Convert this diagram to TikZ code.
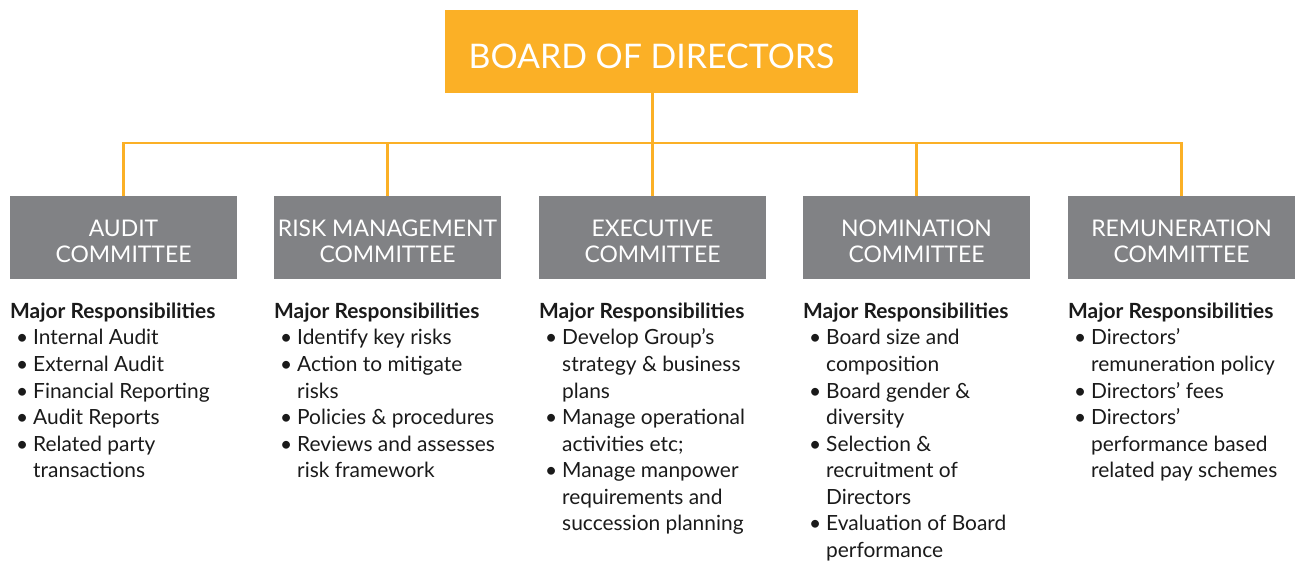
\documentclass[tikz,border=0pt]{standalone}
\usepackage{fontspec}
\setmainfont{Lato}
\definecolor{bodorange}{HTML}{FBB026}
\definecolor{comgray}{HTML}{818285}
\definecolor{txtdark}{HTML}{1A1A1A}
\newcommand{\bitem}[1]{\makebox[23bp][l]{\hspace{6bp}\textbullet}#1}
\newcommand{\citem}[1]{\hspace{23bp}#1}
\newcommand{\mhead}{\textbf{Major Responsibilities}}
\newcommand{\comtext}[2]{\raisebox{-25.5bp}[0pt][0pt]{\begin{tabular}[b]{@{}c@{}}#1\\#2\end{tabular}}}
\tikzset{
  boardbox/.style={fill=bodorange, text=white, minimum width=413bp, minimum height=83bp,
    inner sep=0pt, text height=35bp, text depth=0bp, font=\fontsize{34}{40}\selectfont},
  combox/.style={fill=comgray, text=white, minimum width=227bp, minimum height=83bp,
    inner sep=0pt, font=\fontsize{23}{26.5}\selectfont},
  conn/.style={draw=bodorange, line width=2.4bp},
  resp/.style={anchor=base west, inner sep=0pt, text=txtdark,
    font=\fontsize{21}{26.6}\selectfont}
}
\begin{document}
\begin{tikzpicture}[x=1bp,y=-1bp]
\useasboundingbox (0,0) rectangle (1296,562);
\node[boardbox] (bod) at (651.5,51.5) {BOARD OF DIRECTORS};
\node[combox] (aud) at (123.5,237.5) {\comtext{AUDIT}{COMMITTEE}};
\node[combox] (risk) at (387.5,237.5) {\comtext{RISK MANAGEMENT}{COMMITTEE}};
\node[combox] (exe) at (652.5,237.5) {\comtext{EXECUTIVE}{COMMITTEE}};
\node[combox] (nom) at (916.5,237.5) {\comtext{NOMINATION}{COMMITTEE}};
\node[combox] (rem) at (1181.5,237.5) {\comtext{REMUNERATION}{COMMITTEE}};
\coordinate (hub) at (652.5,143);
\draw[conn] (bod.south -| hub) -- (hub);
\draw[conn] (hub) -| (aud.north);
\draw[conn] (hub) -| (risk.north);
\draw[conn] (hub) -- (exe.north);
\draw[conn] (hub) -| (nom.north);
\draw[conn] (hub) -| (rem.north);
\node[resp] (raud) at (10,318.5) {\begin{tabular}[t]{@{}l@{}}
\mhead\\
\bitem{Internal Audit}\\
\bitem{External Audit}\\
\bitem{Financial Reporting}\\
\bitem{Audit Reports}\\
\bitem{Related party}\\
\citem{transactions}
\end{tabular}};
\node[resp] (rrisk) at (274,318.5) {\begin{tabular}[t]{@{}l@{}}
\mhead\\
\bitem{Identify key risks}\\
\bitem{Action to mitigate}\\
\citem{risks}\\
\bitem{Policies \& procedures}\\
\bitem{Reviews and assesses}\\
\citem{risk framework}
\end{tabular}};
\node[resp] (rexe) at (539,318.5) {\begin{tabular}[t]{@{}l@{}}
\mhead\\
\bitem{Develop Group’s}\\
\citem{strategy \& business}\\
\citem{plans}\\
\bitem{Manage operational}\\
\citem{activities etc;}\\
\bitem{Manage manpower}\\
\citem{requirements and}\\
\citem{succession planning}
\end{tabular}};
\node[resp] (rnom) at (803,318.5) {\begin{tabular}[t]{@{}l@{}}
\mhead\\
\bitem{Board size and}\\
\citem{composition}\\
\bitem{Board gender \&}\\
\citem{diversity}\\
\bitem{Selection \&}\\
\citem{recruitment of}\\
\citem{Directors}\\
\bitem{Evaluation of Board}\\
\citem{performance}
\end{tabular}};
\node[resp] (rrem) at (1068,318.5) {\begin{tabular}[t]{@{}l@{}}
\mhead\\
\bitem{Directors’}\\
\citem{remuneration policy}\\
\bitem{Directors’ fees}\\
\bitem{Directors’}\\
\citem{performance based}\\
\citem{related pay schemes}
\end{tabular}};
\end{tikzpicture}
\end{document}
